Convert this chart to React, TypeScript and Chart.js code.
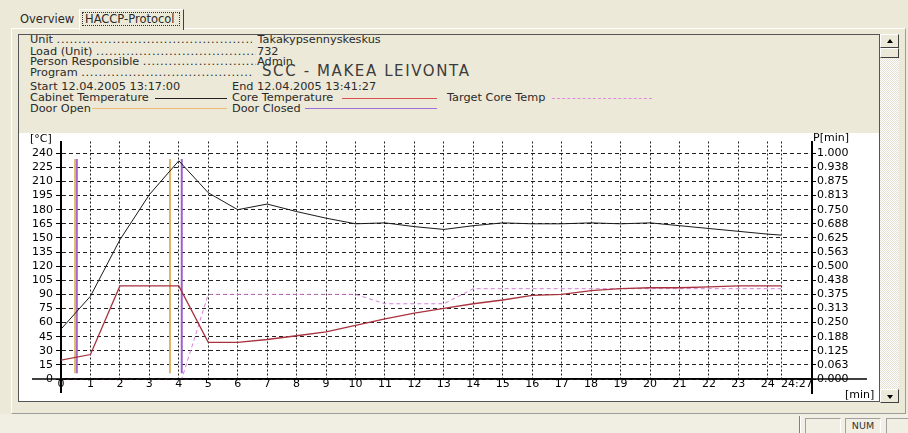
import React, { useEffect, useRef } from 'react';
import { Chart, registerables } from 'chart.js';

Chart.register(...registerables);

// ---------------- data ----------------
const TIME_MIN = [0, 1, 2, 3, 4, 5, 6, 7, 8, 9, 10, 11, 12, 13, 14, 15, 16, 17, 18, 19, 20, 21, 22, 23, 24, 24.45];
const CABINET_TEMP = [53, 88, 148, 196, 232, 198, 180, 186, 178, 171, 165, 166, 162, 159, 163, 166, 165, 165, 166, 165, 166, 163, 160, 157, 154, 153];
const CORE_TEMP = [20, 26, 99, 99, 99, 39, 39, 42, 46, 50, 57, 64, 70, 75, 80, 84, 89, 90, 94, 96, 97, 97, 98, 99, 99, 99];
const TARGET_TIME = [0, 4.1, 5, 10, 11, 13, 14, 24.45];
const TARGET_TEMP = [0, 0, 90, 90, 80, 80, 96, 96];
const DOOR_OPEN_TIME = [0.48, 3.7];
const DOOR_CLOSED_TIME = [0.535, 4.1];
const DOOR_MARK_RANGE = [6, 234];

const X_TICKS = [0, 1, 2, 3, 4, 5, 6, 7, 8, 9, 10, 11, 12, 13, 14, 15, 16, 17, 18, 19, 20, 21, 22, 23, 24, 24.45];
const X_TICK_LABELS = ['0', '1', '2', '3', '4', '5', '6', '7', '8', '9', '10', '11', '12', '13', '14', '15', '16', '17', '18', '19', '20', '21', '22', '23', '24', '24:27'];
const Y_TICKS = [0, 15, 30, 45, 60, 75, 90, 105, 120, 135, 150, 165, 180, 195, 210, 225, 240];
const Y_TICK_LABELS = ['0', '15', '30', '45', '60', '75', '90', '105', '120', '135', '150', '165', '180', '195', '210', '225', '240'];
const P_TICKS = [0, 0.0625, 0.125, 0.1875, 0.25, 0.3125, 0.375, 0.4375, 0.5, 0.5625, 0.625, 0.6875, 0.75, 0.8125, 0.875, 0.9375, 1];
const P_TICK_LABELS = ['0.000', '0.063', '0.125', '0.188', '0.250', '0.313', '0.375', '0.438', '0.500', '0.563', '0.625', '0.688', '0.750', '0.813', '0.875', '0.938', '1.000'];
const X_MAX = 25.5;
const Y_MAX = 252.5;
const P_MAX = Y_MAX / 240;

const FONT = '"DejaVu Sans", Verdana, sans-serif';

function doorSegments(times: number[]) {
  const pts: { x: number; y: number | null }[] = [];
  times.forEach((t) => {
    pts.push({ x: t, y: DOOR_MARK_RANGE[0] });
    pts.push({ x: t, y: DOOR_MARK_RANGE[1] });
    pts.push({ x: t, y: null });
  });
  return pts;
}

const axisExtension = {
  id: 'axisExtension',
  afterDraw(chart: any) {
    const { ctx, scales, chartArea } = chart;
    const y0 = scales.y.getPixelForValue(0);
    const x0 = scales.x.getPixelForValue(0);
    const xr = chartArea.right;
    ctx.save();
    ctx.strokeStyle = '#000';
    ctx.lineWidth = 1.5;
    ctx.beginPath();
    ctx.moveTo(x0 - 29, y0);
    ctx.lineTo(xr + 55, y0);
    ctx.stroke();
    ctx.lineWidth = 2;
    ctx.beginPath();
    ctx.moveTo(x0, y0);
    ctx.lineTo(x0, y0 + 14);
    ctx.moveTo(xr, y0);
    ctx.lineTo(xr, y0 + 15);
    ctx.stroke();
    ctx.restore();
  },
};

const abs = (s: React.CSSProperties): React.CSSProperties => ({ position: 'absolute', ...s });

function Row({ y, x, children, style }: { y: number; x: number; children: React.ReactNode; style?: React.CSSProperties }) {
  return (
    <div style={abs({ left: x, top: y - 7, lineHeight: '14px', height: 14, whiteSpace: 'nowrap', ...style })}>{children}</div>
  );
}

function DotLabel({ y, label, width = 224 }: { y: number; label: string; width?: number }) {
  return (
    <div style={abs({ left: 30, top: y - 7, width, overflow: 'hidden', lineHeight: '14px', height: 14, whiteSpace: 'nowrap' })}>
      {label + ' '}
      <span style={{ letterSpacing: 0.7 }}>{'.'.repeat(80)}</span>
    </div>
  );
}

function HLine({ x1, x2, y, color, dashed }: { x1: number; x2: number; y: number; color: string; dashed?: boolean }) {
  return <div style={abs({ left: x1, top: y, width: x2 - x1, height: 0, borderTop: `1px ${dashed ? 'dashed' : 'solid'} ${color}` })} />;
}

function Arrow({ up }: { up: boolean }) {
  return (
    <div
      style={abs({
        left: 6,
        top: up ? 4 : 5,
        width: 0,
        height: 0,
        borderLeft: '3.5px solid transparent',
        borderRight: '3.5px solid transparent',
        ...(up ? { borderBottom: '4px solid #000' } : { borderTop: '4px solid #000' }),
      })}
    />
  );
}

const raised: React.CSSProperties = {
  background: '#ECE9D8',
  borderStyle: 'solid',
  borderWidth: 1,
  borderColor: '#fff #404040 #404040 #fff',
  boxSizing: 'border-box',
};

const sunken: React.CSSProperties = {
  borderStyle: 'solid',
  borderWidth: 1,
  borderColor: '#a0a0a0 #fff #fff #a0a0a0',
  boxSizing: 'border-box',
};

export default function App() {
  const ref = useRef<HTMLCanvasElement>(null);

  useEffect(() => {
    document.body.style.margin = '0';
    Chart.defaults.font.family = FONT;
    const tickFont = { family: FONT, size: 11, lineHeight: 1 };
    const lastX = X_TICK_LABELS.length - 1;
    const chart = new Chart(ref.current!, {
      type: 'line',
      data: {
        datasets: [
          {
            label: 'Cabinet Temperature',
            data: TIME_MIN.map((t, i) => ({ x: t, y: CABINET_TEMP[i] })),
            borderColor: '#1a1a1a',
            borderWidth: 1,
            pointRadius: 0,
          },
          {
            label: 'Core Temperature',
            data: TIME_MIN.map((t, i) => ({ x: t, y: CORE_TEMP[i] })),
            borderColor: '#a8323e',
            borderWidth: 1.3,
            pointRadius: 0,
          },
          {
            label: 'Target Core Temp',
            data: TARGET_TIME.map((t, i) => ({ x: t, y: TARGET_TEMP[i] })),
            borderColor: '#d47fd4',
            borderWidth: 1,
            borderDash: [4, 3],
            pointRadius: 0,
          },
          {
            label: 'Door Open',
            data: doorSegments(DOOR_OPEN_TIME),
            borderColor: '#e2b565',
            borderWidth: 2,
            pointRadius: 0,
            spanGaps: false,
          },
          {
            label: 'Door Closed',
            data: doorSegments(DOOR_CLOSED_TIME),
            borderColor: '#9b5fcf',
            borderWidth: 2,
            pointRadius: 0,
            spanGaps: false,
          },
        ] as any,
      },
      options: {
        animation: false,
        responsive: false,
        maintainAspectRatio: false,
        layout: { padding: { top: 4, left: 0, right: 0, bottom: 0 } },
        plugins: { legend: { display: false }, tooltip: { enabled: false } },
        elements: { line: { tension: 0 }, point: { radius: 0 } },
        scales: {
          x: {
            type: 'linear',
            position: 'bottom',
            min: 0,
            max: X_MAX,
            afterBuildTicks: (s: any) => {
              s.ticks = X_TICKS.map((v) => ({ value: v }));
            },
            afterFit: (s: any) => {
              s.height = 22;
            },
            ticks: {
              autoSkip: false,
              maxRotation: 0,
              minRotation: 0,
              padding: 0,
              color: '#000',
              font: tickFont,
              // the last label ("24:27") starts at its tick instead of being centred on it
              callback: (_v: any, i: number) => (i === lastX ? ' '.repeat(9) + X_TICK_LABELS[i] : X_TICK_LABELS[i]),
            },
            grid: { color: '#222', lineWidth: 1, drawTicks: false },
            border: { display: true, color: '#000', width: 1.5, dash: [2, 2] },
          },
          y: {
            type: 'linear',
            position: 'left',
            min: 0,
            max: Y_MAX,
            afterBuildTicks: (s: any) => {
              s.ticks = Y_TICKS.map((v) => ({ value: v }));
            },
            afterFit: (s: any) => {
              s.width = 42;
            },
            ticks: {
              padding: 3,
              color: '#000',
              font: tickFont,
              callback: (_v: any, i: number) => Y_TICK_LABELS[i],
            },
            grid: { color: '#222', lineWidth: 1, tickLength: 5, tickColor: '#000', tickWidth: 1, tickBorderDash: [] },
            border: { display: true, color: '#000', width: 2, dash: [4, 3] },
          },
          p: {
            type: 'linear',
            position: 'right',
            min: 0,
            max: P_MAX,
            afterBuildTicks: (s: any) => {
              s.ticks = P_TICKS.map((v) => ({ value: v }));
            },
            afterFit: (s: any) => {
              s.width = 67;
            },
            ticks: {
              padding: 1,
              color: '#000',
              font: tickFont,
              callback: (_v: any, i: number) => P_TICK_LABELS[i],
            },
            grid: { drawOnChartArea: false, tickLength: 4, tickColor: '#000', tickWidth: 1, tickBorderDash: [] },
            border: { display: true, color: '#000', width: 2 },
          },
        },
      } as any,
      plugins: [axisExtension],
    });
    return () => chart.destroy();
  }, []);

  return (
    <div
      style={{
        position: 'fixed',
        left: 0,
        top: 0,
        width: 908,
        height: 433,
        background: '#ECE9D8',
        overflow: 'hidden',
        fontFamily: FONT,
        fontSize: 11.3,
        color: '#2a2a2a',
      }}
    >
      {/* status bar area */}
      <div style={abs({ left: 0, top: 414, width: 908, height: 19, background: '#F1EFE4' })} />
      <div style={abs({ left: 799, top: 416, width: 1, height: 17, background: '#808080' })} />
      <div style={abs({ left: 800, top: 416, width: 1, height: 17, background: '#fff' })} />
      <div style={abs({ left: 805, top: 418, width: 36, height: 18, ...sunken })} />
      <div style={abs({ left: 845, top: 418, width: 36, height: 18, ...sunken, fontSize: 9.5, lineHeight: '14px', textAlign: 'center', color: '#333' })}>NUM</div>
      <div style={abs({ left: 886, top: 418, width: 30, height: 18, ...sunken })} />

      {/* tab page */}
      <div
        style={abs({
          left: 11,
          top: 28,
          width: 895,
          height: 386,
          borderTop: '1px solid #fff',
          borderLeft: '1px solid #fff',
          borderRight: '1px solid #9d9d9d',
          borderBottom: '1px solid #9d9d9d',
          boxSizing: 'border-box',
        })}
      />
      {/* tabs */}
      <div style={abs({ left: 20, top: 12, lineHeight: '14px', fontSize: 11.5 })}>Overview</div>
      <div
        style={abs({
          left: 79,
          top: 9,
          width: 105,
          height: 21,
          background: '#ECE9D8',
          borderTop: '1px solid #fff',
          borderLeft: '1px solid #fff',
          borderRight: '1px solid #404040',
          boxSizing: 'border-box',
        })}
      >
        <div
          style={abs({
            left: 2,
            top: 2,
            width: 98,
            height: 14,
            border: '1px dotted #333',
            boxSizing: 'border-box',
            lineHeight: '12px',
            paddingLeft: 2,
            fontSize: 11.5,
            whiteSpace: 'nowrap',
          })}
        >
          HACCP-Protocol
        </div>
      </div>

      {/* frame */}
      <div style={abs({ left: 18, top: 34, width: 862, height: 368, border: '1px solid #555', boxSizing: 'border-box' })} />

      {/* header info */}
      <DotLabel y={40} label="Unit" width={222} />
      <Row x={243} y={40}>{' '}</Row>
      <Row x={254} y={40}>{'\u00A0'}Takakypsennyskeskus</Row>
      <DotLabel y={51.5} label="Load (Unit)" width={226} />
      <Row x={257} y={51.5}>732</Row>
      <DotLabel y={62.3} label="Person Responsible" width={226} />
      <Row x={257} y={62.3}>Admin</Row>
      <DotLabel y={73} label="Program" width={224} />
      <div style={abs({ left: 262, top: 62, lineHeight: '19px', fontSize: 15, letterSpacing: 1.6, whiteSpace: 'nowrap', color: '#3c3c3c' })}>
        SCC - MAKEA LEIVONTA
      </div>
      <Row x={30} y={87}>Start 12.04.2005 13:17:00</Row>
      <Row x={232} y={87}>End 12.04.2005 13:41:27</Row>
      <Row x={30} y={98}>Cabinet Temperature</Row>
      <HLine x1={155} x2={227} y={98} color="#222" />
      <Row x={232} y={98}>Core Temperature</Row>
      <HLine x1={342} x2={437} y={98} color="#d85050" />
      <Row x={447} y={98}>Target Core Temp</Row>
      <HLine x1={552} x2={652} y={98} color="#e08ae0" dashed />
      <Row x={30} y={108.5}>Door Open</Row>
      <HLine x1={92} x2={227} y={108} color="#f0bb70" />
      <Row x={232} y={108.5}>Door Closed</Row>
      <HLine x1={305} x2={437} y={108} color="#a070d8" />

      {/* chart panel */}
      <div style={abs({ left: 19, top: 133, width: 860, height: 268, background: '#fff' })} />
      <canvas ref={ref} width={860} height={268} style={abs({ left: 19, top: 133, width: 860, height: 268 })} />
      <div style={abs({ left: 30, top: 132, lineHeight: '14px', fontSize: 11, color: '#000' })}>[°C]</div>
      <div style={abs({ left: 813, top: 131, lineHeight: '14px', fontSize: 11, color: '#000' })}>P[min]</div>
      <div style={abs({ left: 845, top: 388, lineHeight: '14px', fontSize: 11, color: '#000' })}>[min]</div>

      {/* scrollbar */}
      <div
        style={abs({
          left: 880,
          top: 34,
          width: 19,
          height: 369,
          background: 'repeating-conic-gradient(#ffffff 0 25%, #e4e1d2 0 50%) 0 0 / 2px 2px',
        })}
      />
      <div style={abs({ left: 880, top: 34, width: 19, height: 14, ...raised })}>
        <Arrow up />
      </div>
      <div style={abs({ left: 880, top: 48, width: 19, height: 10, ...raised })} />
      <div style={abs({ left: 880, top: 389, width: 19, height: 14, ...raised })}>
        <Arrow up={false} />
      </div>
    </div>
  );
}
